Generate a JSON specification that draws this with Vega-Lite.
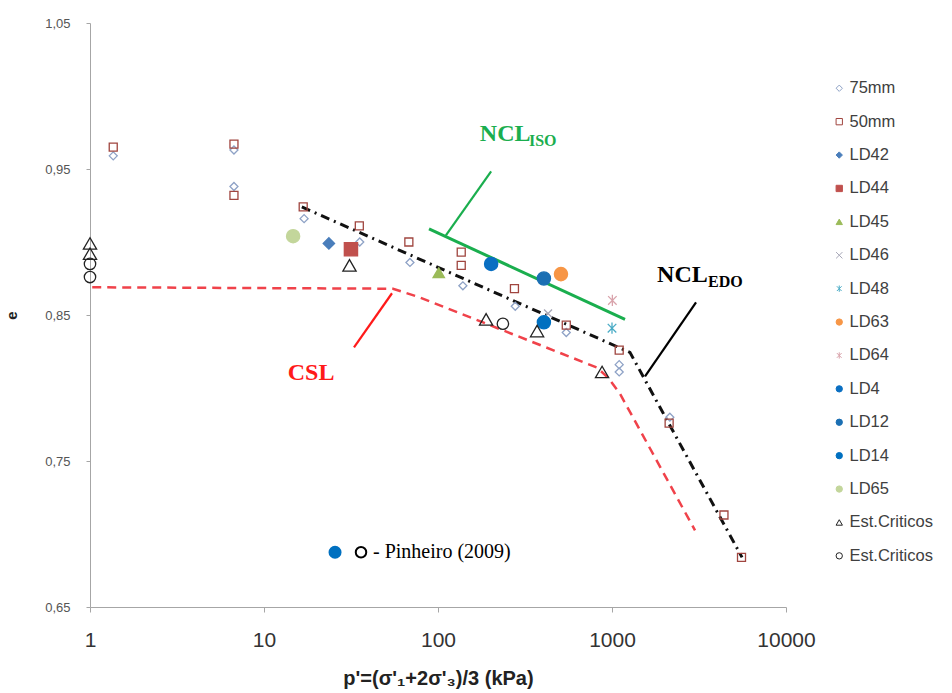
{
  "$schema": "https://vega.github.io/schema/vega-lite/v6.json",
  "width": 696,
  "height": 584,
  "autosize": {"type": "none"},
  "padding": {"left": 90, "top": 23, "right": 166, "bottom": 86},
  "background": "white",
  "config": {
    "view": {"stroke": null},
    "font": "Liberation Sans"
  },
  "datasets": {
    "pts": [
      {"series": "75mm", "x": 1.36, "e": 0.959},
      {"series": "75mm", "x": 6.72, "e": 0.963},
      {"series": "75mm", "x": 6.72, "e": 0.938},
      {"series": "75mm", "x": 17.0, "e": 0.916},
      {"series": "75mm", "x": 35.5, "e": 0.900},
      {"series": "75mm", "x": 69, "e": 0.886},
      {"series": "75mm", "x": 139, "e": 0.870},
      {"series": "75mm", "x": 278, "e": 0.856},
      {"series": "75mm", "x": 546, "e": 0.838},
      {"series": "75mm", "x": 1100, "e": 0.816},
      {"series": "75mm", "x": 1100, "e": 0.811},
      {"series": "75mm", "x": 2150, "e": 0.780},
      {"series": "50mm", "x": 1.36, "e": 0.965},
      {"series": "50mm", "x": 6.72, "e": 0.967},
      {"series": "50mm", "x": 6.72, "e": 0.932},
      {"series": "50mm", "x": 16.8, "e": 0.924},
      {"series": "50mm", "x": 35.3, "e": 0.911},
      {"series": "50mm", "x": 68, "e": 0.900},
      {"series": "50mm", "x": 136, "e": 0.893},
      {"series": "50mm", "x": 136, "e": 0.884},
      {"series": "50mm", "x": 275, "e": 0.868},
      {"series": "50mm", "x": 546, "e": 0.843},
      {"series": "50mm", "x": 1100, "e": 0.826},
      {"series": "50mm", "x": 2130, "e": 0.776},
      {"series": "50mm", "x": 4400, "e": 0.713},
      {"series": "50mm", "x": 5550, "e": 0.684},
      {"series": "LD42", "x": 23.6, "e": 0.899},
      {"series": "LD44", "x": 31.6, "e": 0.895},
      {"series": "LD45", "x": 101, "e": 0.879},
      {"series": "LD46", "x": 429, "e": 0.851},
      {"series": "LD48", "x": 1000, "e": 0.841},
      {"series": "LD63", "x": 509, "e": 0.878},
      {"series": "LD64", "x": 1005, "e": 0.860},
      {"series": "LD4", "x": 202, "e": 0.885},
      {"series": "LD12", "x": 406, "e": 0.875},
      {"series": "LD14", "x": 406, "e": 0.845},
      {"series": "LD65", "x": 14.7, "e": 0.904},
      {"series": "Est.Criticos_t", "x": 1, "e": 0.899},
      {"series": "Est.Criticos_t", "x": 1, "e": 0.892},
      {"series": "Est.Criticos_t", "x": 31, "e": 0.884},
      {"series": "Est.Criticos_t", "x": 189, "e": 0.847},
      {"series": "Est.Criticos_t", "x": 371, "e": 0.839},
      {"series": "Est.Criticos_t", "x": 877, "e": 0.811},
      {"series": "Est.Criticos_c", "x": 1, "e": 0.885},
      {"series": "Est.Criticos_c", "x": 1, "e": 0.876},
      {"series": "Est.Criticos_c", "x": 236, "e": 0.844}
    ]
  },
  "layer": [
    {
      "data": {"values": [
        {"x": 88.8, "e": 0.909}, {"x": 1188, "e": 0.847}
      ]},
      "mark": {"type": "line", "color": "#1aae4e", "strokeWidth": 3},
      "encoding": {
        "x": {"field": "x", "type": "quantitative", "scale": {"type": "log", "domain": [1, 10000]},
          "axis": {"values": [1, 10, 100, 1000, 10000], "format": "d", "grid": false, "domainColor": "#a6a6a6", "tickColor": "#a6a6a6", "tickSize": 5, "labelFontSize": 21, "labelColor": "#333333", "labelPadding": 17, "title": "p'=(σ'₁+2σ'₃)/3 (kPa)", "titleFontSize": 20, "titleFontWeight": "bold", "titleColor": "#222222", "titlePadding": 18, "labelFlush": false}},
        "y": {"field": "e", "type": "quantitative", "scale": {"domain": [0.65, 1.05], "zero": false, "nice": false},
          "axis": {"values": [0.65, 0.75, 0.85, 0.95, 1.05], "labelExpr": "replace(format(datum.value, '.2f'), '.', ',')", "grid": false, "domainColor": "#a6a6a6", "tickColor": "#a6a6a6", "tickSize": 4, "labelFontSize": 13, "labelColor": "#555555", "labelPadding": 16, "title": "e", "titleFontSize": 15, "titleFontWeight": "bold", "titleColor": "#222222", "titlePadding": 25}}
      }
    },
    {
      "data": {"values": [
        {"x": 16.5, "e": 0.924}, {"x": 1268, "e": 0.8244}, {"x": 5590, "e": 0.684}
      ]},
      "mark": {"type": "line", "color": "#111111", "strokeWidth": 3, "strokeDash": [9, 5, 2, 5]},
      "encoding": {
        "x": {"field": "x", "type": "quantitative"},
        "y": {"field": "e", "type": "quantitative"}
      }
    },
    {
      "data": {"values": [
        {"x": 1.03, "e": 0.869}, {"x": 55.1, "e": 0.868}, {"x": 78.8, "e": 0.862},
        {"x": 820, "e": 0.814}, {"x": 950, "e": 0.807}, {"x": 1112, "e": 0.796}, {"x": 3000, "e": 0.7025}
      ]},
      "mark": {"type": "line", "color": "#f0424a", "strokeWidth": 2.5, "strokeDash": [9, 6]},
      "encoding": {
        "x": {"field": "x", "type": "quantitative"},
        "y": {"field": "e", "type": "quantitative"}
      }
    },
    {
      "data": {"values": [{"x": 202, "e": 0.9484, "x2": 111, "e2": 0.9046}]},
      "mark": {"type": "rule", "strokeWidth": 2.2, "color": "#1aae4e"},
      "encoding": {
        "x": {"field": "x", "type": "quantitative"},
        "y": {"field": "e", "type": "quantitative"},
        "x2": {"field": "x2"},
        "y2": {"field": "e2"}
      }
    },
    {
      "data": {"values": [{"x": 3040, "e": 0.8587, "x2": 1548, "e2": 0.808}]},
      "mark": {"type": "rule", "strokeWidth": 2.2, "color": "#000000"},
      "encoding": {
        "x": {"field": "x", "type": "quantitative"},
        "y": {"field": "e", "type": "quantitative"},
        "x2": {"field": "x2"},
        "y2": {"field": "e2"}
      }
    },
    {
      "data": {"values": [{"x": 54.4, "e": 0.8649, "x2": 32.9, "e2": 0.8279}]},
      "mark": {"type": "rule", "strokeWidth": 2.2, "color": "#ff1a1a"},
      "encoding": {
        "x": {"field": "x", "type": "quantitative"},
        "y": {"field": "e", "type": "quantitative"},
        "x2": {"field": "x2"},
        "y2": {"field": "e2"}
      }
    },
    {
      "data": {"name": "pts"},
      "encoding": {
        "x": {"field": "x", "type": "quantitative"},
        "y": {"field": "e", "type": "quantitative"},
        "shape": {"field": "series", "type": "nominal",
          "scale": {"domain": ["75mm", "50mm", "LD42", "LD44", "LD45", "LD46", "LD48", "LD63", "LD64", "LD4", "LD12", "LD14", "LD65", "Est.Criticos_t", "Est.Criticos_c"],
            "range": ["diamond", "square", "diamond", "square", "triangle-up", "M-1,-1L1,1M-1,1L1,-1", "M-0.75,-0.75L0.75,0.75M-0.75,0.75L0.75,-0.75M0,-1L0,1", "circle", "M-0.75,-0.75L0.75,0.75M-0.75,0.75L0.75,-0.75M0,-1L0,1", "circle", "circle", "circle", "circle", "triangle-up", "circle"]},
          "legend": {"title": null, "orient": "none", "legendX": 741, "legendY": 57, "padding": 0, "rowPadding": 16.4, "labelFont": "Liberation Sans", "labelFontSize": 16.5, "labelColor": "#404040", "labelOffset": 2, "symbolSize": 40, "symbolStrokeWidth": 1, "labelExpr": "split(datum.label, '_')[0]"}},
        "fill": {"field": "series", "type": "nominal",
          "scale": {"domain": ["75mm", "50mm", "LD42", "LD44", "LD45", "LD46", "LD48", "LD63", "LD64", "LD4", "LD12", "LD14", "LD65", "Est.Criticos_t", "Est.Criticos_c"],
            "range": ["transparent", "transparent", "#4a7ebb", "#c0504d", "#9bbb59", "transparent", "transparent", "#f79646", "transparent", "#0a6fc2", "#1b6fb3", "#0070c0", "#c3d69b", "transparent", "transparent"]},
          "legend": {"title": null, "orient": "none", "legendX": 741, "legendY": 57, "padding": 0, "rowPadding": 16.4, "labelFont": "Liberation Sans", "labelFontSize": 16.5, "labelColor": "#404040", "labelOffset": 2, "symbolSize": 40, "symbolStrokeWidth": 1, "labelExpr": "split(datum.label, '_')[0]"}},
        "stroke": {"field": "series", "type": "nominal",
          "scale": {"domain": ["75mm", "50mm", "LD42", "LD44", "LD45", "LD46", "LD48", "LD63", "LD64", "LD4", "LD12", "LD14", "LD65", "Est.Criticos_t", "Est.Criticos_c"],
            "range": ["#8ea2c6", "#a0453f", "#4a7ebb", "#c0504d", "#9bbb59", "#a6a6b6", "#4bacc6", "#f79646", "#d9a3ab", "#0a6fc2", "#1b6fb3", "#0070c0", "#c3d69b", "#222222", "#222222"]},
          "legend": {"title": null, "orient": "none", "legendX": 741, "legendY": 57, "padding": 0, "rowPadding": 16.4, "labelFont": "Liberation Sans", "labelFontSize": 16.5, "labelColor": "#404040", "labelOffset": 2, "symbolSize": 40, "symbolStrokeWidth": 1, "labelExpr": "split(datum.label, '_')[0]"}}
      },
      "layer": [
        {
          "transform": [{"filter": "indexof(['75mm', '50mm', 'LD46'], datum.series) >= 0"}],
          "mark": {"type": "point", "strokeWidth": 1.3, "opacity": 1, "size": 64}
        },
        {
          "transform": [{"filter": "indexof(['LD42', 'LD45', 'LD48', 'LD64', 'Est.Criticos_c'], datum.series) >= 0"}],
          "mark": {"type": "point", "strokeWidth": 1.3, "opacity": 1, "size": 130}
        },
        {
          "transform": [{"filter": "indexof(['LD44', 'LD63', 'LD4', 'LD12', 'LD14', 'LD65', 'Est.Criticos_t'], datum.series) >= 0"}],
          "mark": {"type": "point", "strokeWidth": 1.3, "opacity": 1, "size": 175}
        }
      ]
    },
    {
      "data": {"values": [{"x": 25.6, "e": 0.6875}]},
      "mark": {"type": "point", "shape": "circle", "size": 170, "filled": true, "color": "#0070c0", "opacity": 1},
      "encoding": {
        "x": {"field": "x", "type": "quantitative"},
        "y": {"field": "e", "type": "quantitative"}
      }
    },
    {
      "data": {"values": [{"x": 36.1, "e": 0.6875}]},
      "mark": {"type": "point", "shape": "circle", "size": 110, "filled": false, "color": "#000000", "strokeWidth": 2, "opacity": 1},
      "encoding": {
        "x": {"field": "x", "type": "quantitative"},
        "y": {"field": "e", "type": "quantitative"}
      }
    },
    {
      "data": {"values": [
        {"x": 42.3, "e": 0.6875, "label": "- Pinheiro (2009)"}
      ]},
      "mark": {"type": "text", "font": "Liberation Serif", "fontSize": 20, "align": "left", "baseline": "middle", "color": "#000000"},
      "encoding": {
        "x": {"field": "x", "type": "quantitative"},
        "y": {"field": "e", "type": "quantitative"},
        "text": {"field": "label"}
      }
    },
    {
      "data": {"values": [{"x": 174, "e": 0.9738, "label": "NCL"}]},
      "mark": {"type": "text", "font": "Liberation Serif", "fontSize": 24, "fontWeight": "bold", "align": "left", "baseline": "middle", "color": "#1aae4e"},
      "encoding": {
        "x": {"field": "x", "type": "quantitative"},
        "y": {"field": "e", "type": "quantitative"},
        "text": {"field": "label"}
      }
    },
    {
      "data": {"values": [{"x": 333, "e": 0.969, "label": "ISO"}]},
      "mark": {"type": "text", "font": "Liberation Serif", "fontSize": 16, "fontWeight": "bold", "align": "left", "baseline": "middle", "color": "#1aae4e"},
      "encoding": {
        "x": {"field": "x", "type": "quantitative"},
        "y": {"field": "e", "type": "quantitative"},
        "text": {"field": "label"}
      }
    },
    {
      "data": {"values": [{"x": 1815, "e": 0.8772, "label": "NCL"}]},
      "mark": {"type": "text", "font": "Liberation Serif", "fontSize": 24, "fontWeight": "bold", "align": "left", "baseline": "middle", "color": "#000000"},
      "encoding": {
        "x": {"field": "x", "type": "quantitative"},
        "y": {"field": "e", "type": "quantitative"},
        "text": {"field": "label"}
      }
    },
    {
      "data": {"values": [{"x": 3565, "e": 0.8724, "label": "EDO"}]},
      "mark": {"type": "text", "font": "Liberation Serif", "fontSize": 16, "fontWeight": "bold", "align": "left", "baseline": "middle", "color": "#000000"},
      "encoding": {
        "x": {"field": "x", "type": "quantitative"},
        "y": {"field": "e", "type": "quantitative"},
        "text": {"field": "label"}
      }
    },
    {
      "data": {"values": [{"x": 13.7, "e": 0.810, "label": "CSL"}]},
      "mark": {"type": "text", "font": "Liberation Serif", "fontSize": 24, "fontWeight": "bold", "align": "left", "baseline": "middle", "color": "#ff1a1a"},
      "encoding": {
        "x": {"field": "x", "type": "quantitative"},
        "y": {"field": "e", "type": "quantitative"},
        "text": {"field": "label"}
      }
    }
  ]
}
